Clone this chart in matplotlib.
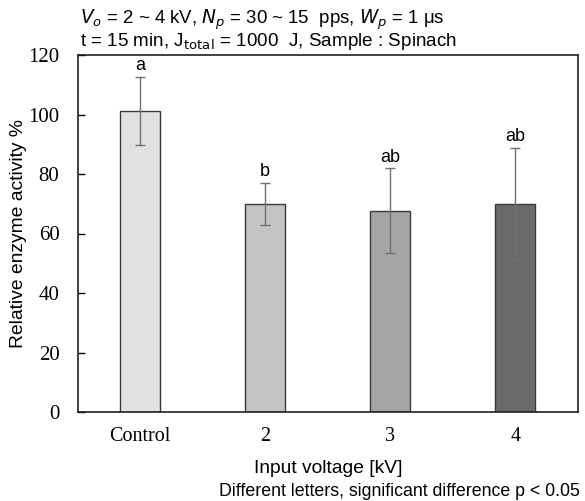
import matplotlib
matplotlib.use("Agg")
import matplotlib.pyplot as plt

categories = ["Control", "2", "3", "4"]
values = [101.2, 69.9, 67.6, 70.0]
errors = [11.5, 7.2, 14.3, 18.8]
letters = ["a", "b", "ab", "ab"]
colors = ["#e1e1e1", "#c4c4c4", "#a5a5a5", "#6a6a6a"]
yticks = [0, 20, 40, 60, 80, 100, 120]

W, H = 585, 501
fig = plt.figure(figsize=(W / 100, H / 100), dpi=100)
ax_l, ax_r, ax_t, ax_b = 77.5, 578, 55, 412
ax = fig.add_axes([ax_l / W, 1 - ax_b / H, (ax_r - ax_l) / W, (ax_b - ax_t) / H])

x = list(range(len(categories)))
ax.bar(x, values, width=0.32, color=colors, edgecolor="#3a3a3a", linewidth=1.0, zorder=2)
ax.errorbar(x, values, yerr=errors, fmt="none", ecolor="#707070", elinewidth=1.0,
            capsize=3.5, capthick=1.0, zorder=3)
for xi, v, e, l in zip(x, values, errors, letters):
    ax.text(xi, v + e + 0.8, l, ha="center", va="bottom", fontsize=13,
            family="Liberation Sans")

ax.set_xlim(-0.5, 3.5)
ax.set_ylim(0, 120)
ax.set_yticks(yticks)
ax.set_xticks(x)
ax.set_xticklabels(categories)
for lab in ax.get_yticklabels():
    lab.set_family("Liberation Serif")
    lab.set_fontsize(15)
for lab in ax.get_xticklabels():
    lab.set_family("Liberation Serif")
    lab.set_fontsize(14.5)
ax.tick_params(axis="y", direction="in", length=5, width=1, pad=13)
ax.tick_params(axis="x", length=0, pad=11)
for s in ax.spines.values():
    s.set_linewidth(1.2)
    s.set_color("#202020")

ax.set_ylabel("Relative enzyme activity %", fontsize=13.9, family="Liberation Sans",
              va="center")
ax.yaxis.set_label_coords((18.5 - ax_l) / (ax_r - ax_l), 0.5)
ax.set_xlabel("Input voltage [kV]", fontsize=13.9, family="Liberation Sans",
              va="baseline")
ax.xaxis.set_label_coords(0.5, (ax_b - 473) / (ax_b - ax_t))

fig.text(80 / W, 1 - 23.5 / H, r"$V_o$ = 2 ~ 4 kV, $N_p$ = 30 ~ 15  pps, $W_p$ = 1 μs",
         fontsize=13.4, family="Liberation Sans", va="baseline", ha="left",
         math_fontfamily="custom")
fig.text(80 / W, 1 - 46.5 / H, r"t = 15 min, J$_{\rm total}$ = 1000  J, Sample : Spinach",
         fontsize=13.6, family="Liberation Sans", va="baseline", ha="left",
         math_fontfamily="custom")
fig.text(580 / W, 1 - 496 / H, "Different letters, significant difference p < 0.05",
         fontsize=12.8, family="Liberation Sans", va="baseline", ha="right")

fig.savefig("out.png", dpi=100)
